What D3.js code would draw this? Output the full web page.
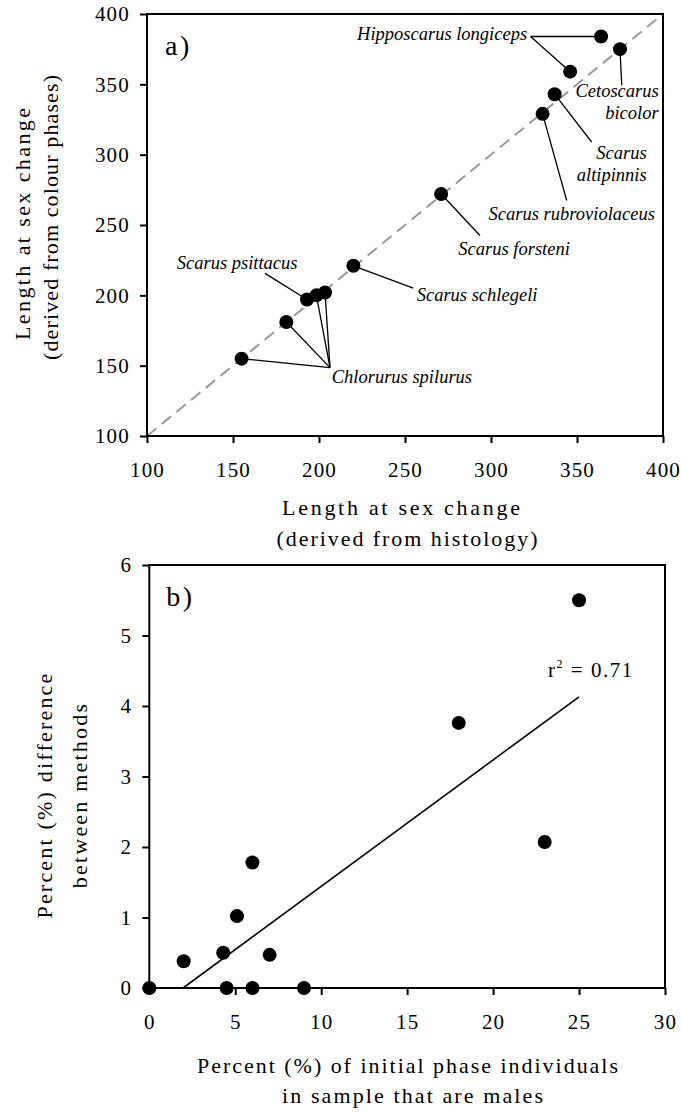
<!DOCTYPE html>
<html>
<head>
<meta charset="utf-8">
<script src="https://cdn.jsdelivr.net/npm/d3@7"></script>
<style>
  body { margin: 0; background: #fff; }
  text { font-family: "Liberation Serif", "Times New Roman", serif; fill: #000; }
</style>
</head>
<body>
<script>
// panel a: length at sex change, histology vs colour phases
var species = ["Hipposcarus longiceps", "Hipposcarus longiceps", "Cetoscarus bicolor",
  "Scarus altipinnis", "Scarus rubroviolaceus", "Scarus forsteni", "Scarus schlegeli",
  "Scarus psittacus", "Chlorurus spilurus", "Chlorurus spilurus", "Chlorurus spilurus",
  "Chlorurus spilurus"];
var histology = [364, 346, 375, 337, 330, 271, 220, 193, 198.5, 203.5, 181, 155];
var colourPhase = [384, 359, 375, 343, 329, 272, 221, 197, 200, 202, 181, 155];
var lengthTicks = [100, 150, 200, 250, 300, 350, 400];

// panel b: % IP males vs % difference between methods
var pctMales = [0, 2, 4.3, 4.5, 5.1, 6, 6, 7, 9, 18, 23, 25];
var pctDiff = [0, 0.38, 0.5, 0, 1.02, 1.78, 0, 0.47, 0, 3.76, 2.07, 5.5];
var pctXTicks = [0, 5, 10, 15, 20, 25, 30];
var pctYTicks = [0, 1, 2, 3, 4, 5, 6];
var rSquared = "0.71";

// callouts for panel a (positions in data units)
var callouts = [
  {lines: ["Hipposcarus longiceps"], at: [321, 381.5], anchor: "end", knee: [323, 384], to: [0, 1]},
  {lines: ["Cetoscarus", "bicolor"], at: [397.5, 341], anchor: "end", knee: [376, 349.4], to: [2]},
  {lines: ["Scarus", "altipinnis"], at: [390.5, 296.7], anchor: "end", knee: [358.5, 309], to: [3]},
  {lines: ["Scarus rubroviolaceus"], at: [395.3, 253.2], anchor: "end", knee: [344, 267.4], to: [4]},
  {lines: ["Scarus forsteni"], at: [281, 228.7], anchor: "start", knee: [293.6, 242.5], to: [5]},
  {lines: ["Scarus schlegeli"], at: [256.8, 196.2], anchor: "start", knee: [254.8, 205.2], to: [6]},
  {lines: ["Scarus psittacus"], at: [117.3, 218.8], anchor: "start", knee: [168.6, 215.6], to: [7]},
  {lines: ["Chlorurus spilurus"], at: [207.4, 138], anchor: "start", knee: [206.4, 148.6], to: [8, 9, 10, 11]}
];

var svg = d3.select("body").append("svg")
  .attr("width", 681)
  .attr("height", 1112);

function styleAxis(g) {
  g.select(".domain").remove();
  g.selectAll(".tick line").attr("stroke", "#000").attr("stroke-width", 2);
  g.selectAll(".tick text")
    .attr("font-size", 21)
    .attr("letter-spacing", 1.2)
    .attr("fill", "#000");
}

function frame(x, y) {
  svg.append("rect")
    .attr("x", x.range()[0])
    .attr("y", y.range()[1])
    .attr("width", x.range()[1] - x.range()[0])
    .attr("height", y.range()[0] - y.range()[1])
    .attr("fill", "none")
    .attr("stroke", "#000")
    .attr("stroke-width", 2);
}

// two-line axis title; w stretches a line to the width measured on the original
function title(lines, x, y, rotate, spacing) {
  var t = svg.append("g")
    .attr("transform", "translate(" + x + "," + y + ")" + (rotate ? " rotate(-90)" : ""));
  lines.forEach(function(l, i) {
    var txt = t.append("text")
      .attr("x", l.dx || 0)
      .attr("y", i * spacing)
      .attr("text-anchor", "middle")
      .attr("font-size", 22)
      .text(l.text);
    if (l.w) txt.attr("textLength", l.w).attr("lengthAdjust", "spacing");
    else txt.attr("letter-spacing", 2.2);
  });
}

// ---------- panel a ----------
var xa = d3.scaleLinear().domain([100, 400]).range([147, 663]);
var ya = d3.scaleLinear().domain([100, 400]).range([436, 14]);

svg.append("line")
  .attr("x1", xa(100)).attr("y1", ya(100))
  .attr("x2", xa(400)).attr("y2", ya(400))
  .attr("stroke", "#999")
  .attr("stroke-width", 2)
  .attr("stroke-dasharray", "12,7");

svg.append("g")
  .attr("transform", "translate(0," + ya(100) + ")")
  .call(d3.axisBottom(xa).tickValues(lengthTicks).tickSize(7).tickPadding(19))
  .call(styleAxis);
svg.append("g")
  .attr("transform", "translate(" + xa(100) + ",0)")
  .call(d3.axisLeft(ya).tickValues(lengthTicks).tickSize(7).tickPadding(10))
  .call(styleAxis);
frame(xa, ya);

callouts.forEach(function(c) {
  c.to.forEach(function(i) {
    svg.append("line")
      .attr("x1", xa(c.knee[0])).attr("y1", ya(c.knee[1]))
      .attr("x2", xa(histology[i])).attr("y2", ya(colourPhase[i]))
      .attr("stroke", "#000")
      .attr("stroke-width", 1.3);
  });
  c.lines.forEach(function(l, j) {
    svg.append("text")
      .attr("x", xa(c.at[0]))
      .attr("y", ya(c.at[1]) + j * 22)
      .attr("text-anchor", c.anchor)
      .attr("font-size", 18.5)
      .attr("font-style", "italic")
      .text(l);
  });
});

svg.append("g").selectAll("circle")
  .data(histology)
  .join("circle")
  .attr("cx", function(d) { return xa(d); })
  .attr("cy", function(d, i) { return ya(colourPhase[i]); })
  .attr("r", 7)
  .attr("fill", "#000");

svg.append("text")
  .attr("x", xa(100) + 18)
  .attr("y", ya(400) + 41)
  .attr("font-size", 28)
  .attr("letter-spacing", 2.5)
  .text("a)");

title([{text: "Length at sex change", dx: -4, w: 238},
       {text: "(derived from histology)", dx: 2, w: 261}], 405, 515, false, 31);
title([{text: "Length at sex change", dx: -3, w: 232},
       {text: "(derived from colour phases)", dx: 3.5, w: 285}], 30, 221, true, 28);

// ---------- panel b ----------
var xb = d3.scaleLinear().domain([0, 30]).range([149.3, 665]);
var yb = d3.scaleLinear().domain([0, 6]).range([988, 565]);

svg.append("g")
  .attr("transform", "translate(0," + yb(0) + ")")
  .call(d3.axisBottom(xb).tickValues(pctXTicks).tickSize(7).tickPadding(19).tickFormat(d3.format("d")))
  .call(styleAxis);
svg.append("g")
  .attr("transform", "translate(" + xb(0) + ",0)")
  .call(d3.axisLeft(yb).tickValues(pctYTicks).tickSize(7).tickPadding(10).tickFormat(d3.format("d")))
  .call(styleAxis);
frame(xb, yb);

// least squares fit, clipped at y = 0
var mx = d3.mean(pctMales), my = d3.mean(pctDiff);
var sxy = d3.sum(pctMales, function(d, i) { return (d - mx) * (pctDiff[i] - my); });
var sxx = d3.sum(pctMales, function(d) { return (d - mx) * (d - mx); });
var slope = sxy / sxx, intercept = my - slope * mx;
var fitX = [-intercept / slope, d3.max(pctMales)];

svg.append("path")
  .datum(fitX)
  .attr("d", d3.line()
    .x(function(d) { return xb(d); })
    .y(function(d) { return yb(intercept + slope * d); }))
  .attr("fill", "none")
  .attr("stroke", "#000")
  .attr("stroke-width", 1.6);

svg.append("g").selectAll("circle")
  .data(pctMales)
  .join("circle")
  .attr("cx", function(d) { return xb(d); })
  .attr("cy", function(d, i) { return yb(pctDiff[i]); })
  .attr("r", 7)
  .attr("fill", "#000");

var r2 = svg.append("text")
  .attr("x", xb(23.2))
  .attr("y", yb(4.41))
  .attr("font-size", 21)
  .attr("letter-spacing", 1.5);
r2.append("tspan").text("r");
r2.append("tspan").attr("font-size", 12).attr("dy", -9).text("2");
r2.append("tspan").attr("dy", 9).text(" = " + rSquared);

svg.append("text")
  .attr("x", xb(0) + 17)
  .attr("y", yb(6) + 41)
  .attr("font-size", 28)
  .attr("letter-spacing", 2.5)
  .text("b)");

title([{text: "Percent (%) of initial phase individuals", dx: 0, w: 421},
       {text: "in sample that are males", dx: 5, w: 261}], 407.5, 1073, false, 30);
title([{text: "Percent (%) difference", dx: 0},
       {text: "between methods", dx: 0}], 52, 795, true, 35);
</script>
</body>
</html>
